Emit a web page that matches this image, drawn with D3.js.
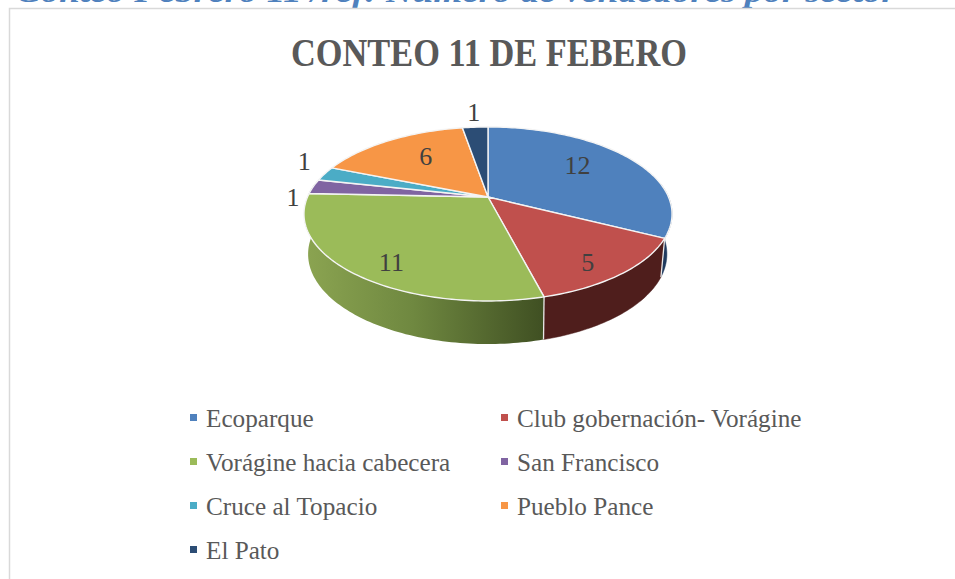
<!DOCTYPE html>
<html><head><meta charset="utf-8">
<script src="https://cdn.jsdelivr.net/npm/d3@7"></script>
<style>html,body{margin:0;padding:0;background:#fff;overflow:hidden}svg{display:block}</style>
</head><body><div id="c"></div>
<script>
const categories = ["Ecoparque","Club gobernación- Vorágine","Vorágine hacia cabecera","San Francisco","Cruce al Topacio","Pueblo Pance","El Pato"];
const values = [12,5,11,1,1,6,1];
const topColors = ["#4f81bd","#c0504d","#9bbb59","#8064a2","#4bacc6","#f79646","#2c4d75"];
const sideColors = ["#1f3a5e","#4f1e1c",null,"#40305a","#25606f","#8f5020","#1c3048"];
const headingText = "Conteo Febrero 11 /ref: Número de vendedores por sector";
const titleText = "CONTEO 11 DE FEBERO";
const legendCols = [0,1,0,1,0,1,0];
const legendRows = [0,0,1,1,2,2,3];
const labelRadius = [0.62,0.70,0.62,1.12,1.12,0.62,1.14];
const labelDx = [0,11,-19,0,-2,2,0];
const labelDy = [-7,14,20,11,-11,-4,-8];

const svg = d3.select("#c").append("svg").attr("width",955).attr("height",579);
const SERIF = "'Liberation Serif','DejaVu Serif',serif";

const defs = svg.append("defs");
const g = defs.append("linearGradient").attr("id","greenSide").attr("gradientUnits","userSpaceOnUse")
  .attr("x1",305).attr("x2",545).attr("y1",0).attr("y2",0);
g.append("stop").attr("offset",0).attr("stop-color","#8ba451");
g.append("stop").attr("offset",0.45).attr("stop-color","#6f8840");
g.append("stop").attr("offset",1).attr("stop-color","#3f4f22");

svg.append("text").attr("x",16).attr("y",2).attr("font-family",SERIF).attr("font-weight","bold")
  .attr("font-style","italic").attr("font-size",30).attr("fill","#4f81bd")
  .attr("textLength",880).attr("lengthAdjust","spacingAndGlyphs").text(headingText);

svg.append("rect").attr("x",9.5).attr("y",8.5).attr("width",960).attr("height",600)
  .attr("fill","none").attr("stroke","#d9d9d9").attr("stroke-width",1.5);

svg.append("text").attr("x",489).attr("y",66).attr("text-anchor","middle").attr("font-family",SERIF)
  .attr("font-weight","bold").attr("font-size",40).attr("fill","#595959")
  .attr("textLength",396).attr("lengthAdjust","spacingAndGlyphs").text(titleText);

// pie layout: data angles clockwise from the top, in data order
const arcs = d3.pie().sort(null)(values);

// tilted disc seen in perspective
function project(theta, r, disc){
  const u = r*Math.sin(theta), v = -r*Math.cos(theta), w = 1 + disc.k*v;
  return [disc.cx + disc.A*u/w, disc.cy + disc.a*v/w];
}
const topDisc = {cx:488, cy:197, A:180.5, a:83.7, k:-0.195};
const botDisc = {cx:487.5, cy:234.3, A:175, a:85.6, k:-0.22};

function rim(a0,a1,disc){
  const n = Math.max(2,Math.ceil((a1-a0)/0.02));
  return d3.range(n+1).map(i=>project(a0+(a1-a0)*i/n,1,disc));
}
const line = d3.line();

// visible side wall
const visLo = Math.PI*0.45, visHi = Math.PI*1.56;
const wall = svg.append("g");
arcs.forEach((d,i)=>{
  const a0=Math.max(d.startAngle,visLo), a1=Math.min(d.endAngle,visHi);
  if(a1<=a0) return;
  const pts = rim(a0,a1,topDisc).concat(rim(a0,a1,botDisc).reverse());
  wall.append("path").attr("d",line(pts)+"Z")
    .attr("fill",sideColors[i]||"url(#greenSide)")
    .attr("stroke",sideColors[i]||"none").attr("stroke-width",0.5);
});
// edge highlights between side segments
[arcs[0].endAngle,arcs[1].endAngle].forEach(a=>{
  wall.append("path").attr("d",line([project(a,1,topDisc),project(a,1,botDisc)]))
    .attr("stroke","#e8e8e8").attr("stroke-width",1.3).attr("fill","none");
});

// top face
const face = svg.append("g");
arcs.forEach((d,i)=>{
  const pts = [project(0,0,topDisc)].concat(rim(d.startAngle,d.endAngle,topDisc));
  face.append("path").attr("d",line(pts)+"Z").attr("fill",topColors[i])
    .attr("stroke","#f4f4f4").attr("stroke-width",1.4).attr("stroke-linejoin","round");
});

// value labels
arcs.forEach((d,i)=>{
  const p = project((d.startAngle+d.endAngle)/2,labelRadius[i],topDisc);
  svg.append("text").attr("x",p[0]+labelDx[i]).attr("y",p[1]+labelDy[i]).attr("dy","0.36em").attr("text-anchor","middle")
    .attr("font-family",SERIF).attr("font-size",26).attr("fill","#404040").text(values[i]);
});

// legend
const colX = d3.scaleOrdinal().domain([0,1]).range([186,497]);
const rowY = d3.scaleLinear().domain([0,3]).range([418,550]);
categories.forEach((c,i)=>{
  const x=colX(legendCols[i]), y=rowY(legendRows[i]);
  svg.append("rect").attr("x",x+4).attr("y",y-4).attr("width",7).attr("height",7).attr("fill",topColors[i]);
  svg.append("text").attr("x",x+20).attr("y",y).attr("dy","0.34em").attr("font-family",SERIF)
    .attr("font-size",25.2).attr("fill","#595959").text(c);
});
</script></body></html>
